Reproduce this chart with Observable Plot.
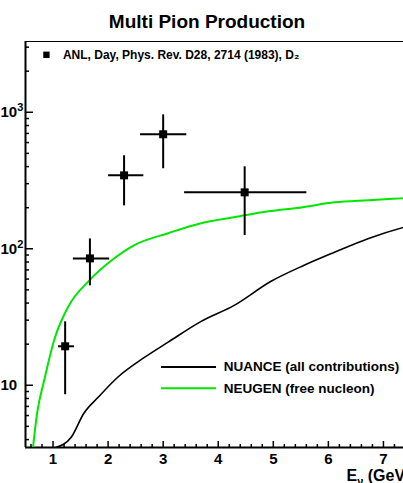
<!DOCTYPE html>
<html>
<head>
<meta charset="utf-8">
<script src="https://cdn.jsdelivr.net/npm/d3@7"></script>
<script src="https://cdn.jsdelivr.net/npm/@observablehq/plot@0.6"></script>
<style>
  html, body { margin: 0; padding: 0; background: #fff; overflow: hidden; width: 403px; height: 483px; }
  #chart { width: 403px; height: 483px; overflow: hidden; }
  #chart svg { max-width: none !important; width: 448px !important; height: 483px !important; }
</style>
</head>
<body>
<div id="chart"></div>
<script>
// ---- data ----
const title = "Multi Pion Production";
const xTitle = "Eν (GeV)";
const dataLabel = "ANL, Day, Phys. Rev. D28, 2714 (1983), D₂";
const seriesNames = ["NUANCE (all contributions)", "NEUGEN (free nucleon)"];
const seriesColors = ["#000000", "#00e600"];

// ANL measurements: energy, value, x-range, y-range
const ptX    = [1.22, 1.67, 2.29, 3.00, 4.48];
const ptXlo  = [1.09, 1.36, 2.00, 2.58, 3.38];
const ptXhi  = [1.38, 2.02, 2.64, 3.42, 5.60];
const ptY    = [19.3, 85, 345, 690, 259];
const ptYlo  = [8.6, 54, 208, 389, 126];
const ptYhi  = [29.4, 119, 484, 966, 402];

// NUANCE (black) curve
const nuanceX = [1.05, 1.33, 1.56, 1.82, 2.18, 2.66, 3.09, 3.69, 4.29, 4.96, 5.56, 6.11, 6.73, 7.38, 8.0];
const nuanceY = [3.5, 4.16, 6.24, 8.17, 11.5, 16.0, 20.7, 29.4, 38.5, 57.8, 75.7, 94.2, 119, 144, 165];

// NEUGEN (green) curve
const neugenX = [0.636, 0.71, 0.84, 1.02, 1.27, 1.66, 2.06, 2.47, 3.09, 3.69, 4.29, 4.91, 5.51, 6.11, 6.73, 7.33, 8.0];
const neugenY = [3.5, 6.2, 10.9, 21.4, 37.2, 58.7, 82, 106, 130, 154, 170, 188, 201, 219, 227, 234, 242];

// ticks
const xMajor = [1, 2, 3, 4, 5, 6, 7, 8];
const xMajorLabels = ["1", "2", "3", "4", "5", "6", "7", "8"];
const xMinor = d3.range(0.6, 8.0001, 0.2).map(v => +v.toFixed(1)).filter(v => Math.abs(v - Math.round(v)) > 1e-6);
const yMajor = [10, 100, 1000];
const yMajorLabels = ["10", "10²", "10³"];
const yMinor = [4, 5, 6, 7, 8, 9, 20, 30, 40, 50, 60, 70, 80, 90, 200, 300, 400, 500, 600, 700, 800, 900, 2000, 3000];

// ---- tables ----
const points = ptX.map((x, i) => ({x, y: ptY[i], xlo: ptXlo[i], xhi: ptXhi[i], ylo: ptYlo[i], yhi: ptYhi[i]}));
const nuance = nuanceX.map((x, i) => ({x, y: nuanceY[i]}));
const neugen = neugenX.map((x, i) => ({x, y: neugenY[i]}));
const legendRows = [
  {name: seriesNames[0], color: seriesColors[0], y: 13.6},
  {name: seriesNames[1], color: seriesColors[1], y: 9.5}
];

const xDom = [0.5, 8.0];
const yDom = [3.5, 3300];

const chart = Plot.plot({
  width: 448,
  height: 483,
  marginLeft: 25,
  marginRight: 10,
  marginTop: 41,
  marginBottom: 36,
  style: {fontFamily: "'Liberation Sans', Arial, sans-serif", fontWeight: "bold", background: "white", overflow: "visible", maxWidth: "none"},
  x: {domain: xDom, axis: null},
  y: {type: "log", domain: yDom, axis: null},
  marks: [
    Plot.frame({stroke: "black", strokeWidth: 1}),
    // minor/major ticks pointing inside
    Plot.axisX({anchor: "bottom", ticks: xMinor, tickSize: 3, dy: -3, fill: "none", strokeWidth: 1.5}),
    Plot.axisX({anchor: "bottom", ticks: xMajor, tickSize: 6, dy: -6, fill: "none", strokeWidth: 1.5}),
    Plot.axisX({anchor: "bottom", ticks: xMajor, tickSize: 0, tickPadding: 6, tickFormat: d => xMajorLabels[xMajor.indexOf(d)], fontSize: 15, fontWeight: "bold"}),
    Plot.axisY({anchor: "left", ticks: yMinor, tickSize: 4, dx: 4, fill: "none", strokeWidth: 1.5}),
    Plot.axisY({anchor: "left", ticks: yMajor, tickSize: 8, dx: 8, fill: "none", strokeWidth: 1.5}),
    Plot.axisY({anchor: "left", ticks: yMajor, tickSize: 0, tickPadding: 25, textAnchor: "start", tickFormat: d => yMajorLabels[yMajor.indexOf(d)], fontSize: 15, fontWeight: "bold"}),
    Plot.ruleX([xDom[0]], {stroke: "black", strokeWidth: 2}),
    Plot.ruleY([yDom[0]], {stroke: "black", strokeWidth: 2}),
    // curves
    Plot.line(nuance, {x: "x", y: "y", stroke: seriesColors[0], strokeWidth: 1.6, curve: "monotone-x", clip: true}),
    Plot.line(neugen, {x: "x", y: "y", stroke: seriesColors[1], strokeWidth: 2, curve: "monotone-x", clip: true}),
    // data points
    Plot.link(points, {x1: "xlo", x2: "xhi", y1: "y", y2: "y", stroke: "black", strokeWidth: 2}),
    Plot.link(points, {x1: "x", x2: "x", y1: "ylo", y2: "yhi", stroke: "black", strokeWidth: 2}),
    Plot.dot(points, {x: "x", y: "y", symbol: "square", r: 4.5, fill: "black", stroke: null}),
    // top legend
    Plot.dot([dataLabel], {x: 0.88, y: 2637, symbol: "square", r: 3.6, fill: "black", stroke: null}),
    Plot.text([dataLabel], {x: 1.18, y: 2637, text: d => d, textAnchor: "start", fontSize: 12, fontWeight: "bold", fill: "black"}),
    // bottom legend
    Plot.link(legendRows, {x1: 2.96, x2: 3.96, y1: "y", y2: "y", stroke: "color", strokeWidth: 2}),
    Plot.text(legendRows, {x: 4.1, y: "y", text: "name", textAnchor: "start", fontSize: 13.5, fontWeight: "bold", fill: "black"}),
    // title & axis title
    Plot.text([title], {frameAnchor: "top", lineAnchor: "middle", dx: -25, dy: -20, text: d => d, fontSize: 19, fontWeight: "bold", fill: "black"}),
    Plot.text([xTitle], {x: 6.33, frameAnchor: "bottom", lineAnchor: "bottom", dy: 33, text: d => d, textAnchor: "start", fontSize: 16, fontWeight: "bold", fill: "black"})
  ]
});

const ns = "http://www.w3.org/2000/svg";
chart.querySelectorAll("text").forEach(t => {
  // subscript for the neutrino symbol in the x-axis title
  if (t.textContent === xTitle) {
    t.textContent = "";
    const a = document.createElementNS(ns, "tspan"); a.textContent = "E";
    const b = document.createElementNS(ns, "tspan"); b.textContent = "ν"; b.setAttribute("dy", "4"); b.setAttribute("font-size", "11");
    const c = document.createElementNS(ns, "tspan"); c.textContent = " (GeV)"; c.setAttribute("dy", "-4");
    t.append(a, b, c);
  }
  // raised exponents on the log-axis labels
  const m = t.textContent.match(/^10([²³])$/);
  if (m && t.childElementCount === 0) {
    const exp = m[1] === "²" ? "2" : "3";
    t.textContent = "";
    const a = document.createElementNS(ns, "tspan"); a.textContent = "10";
    const b = document.createElementNS(ns, "tspan"); b.textContent = exp; b.setAttribute("dy", "-6"); b.setAttribute("font-size", "11");
    t.append(a, b);
  }
});
document.getElementById("chart").appendChild(chart);
</script>
</body>
</html>
